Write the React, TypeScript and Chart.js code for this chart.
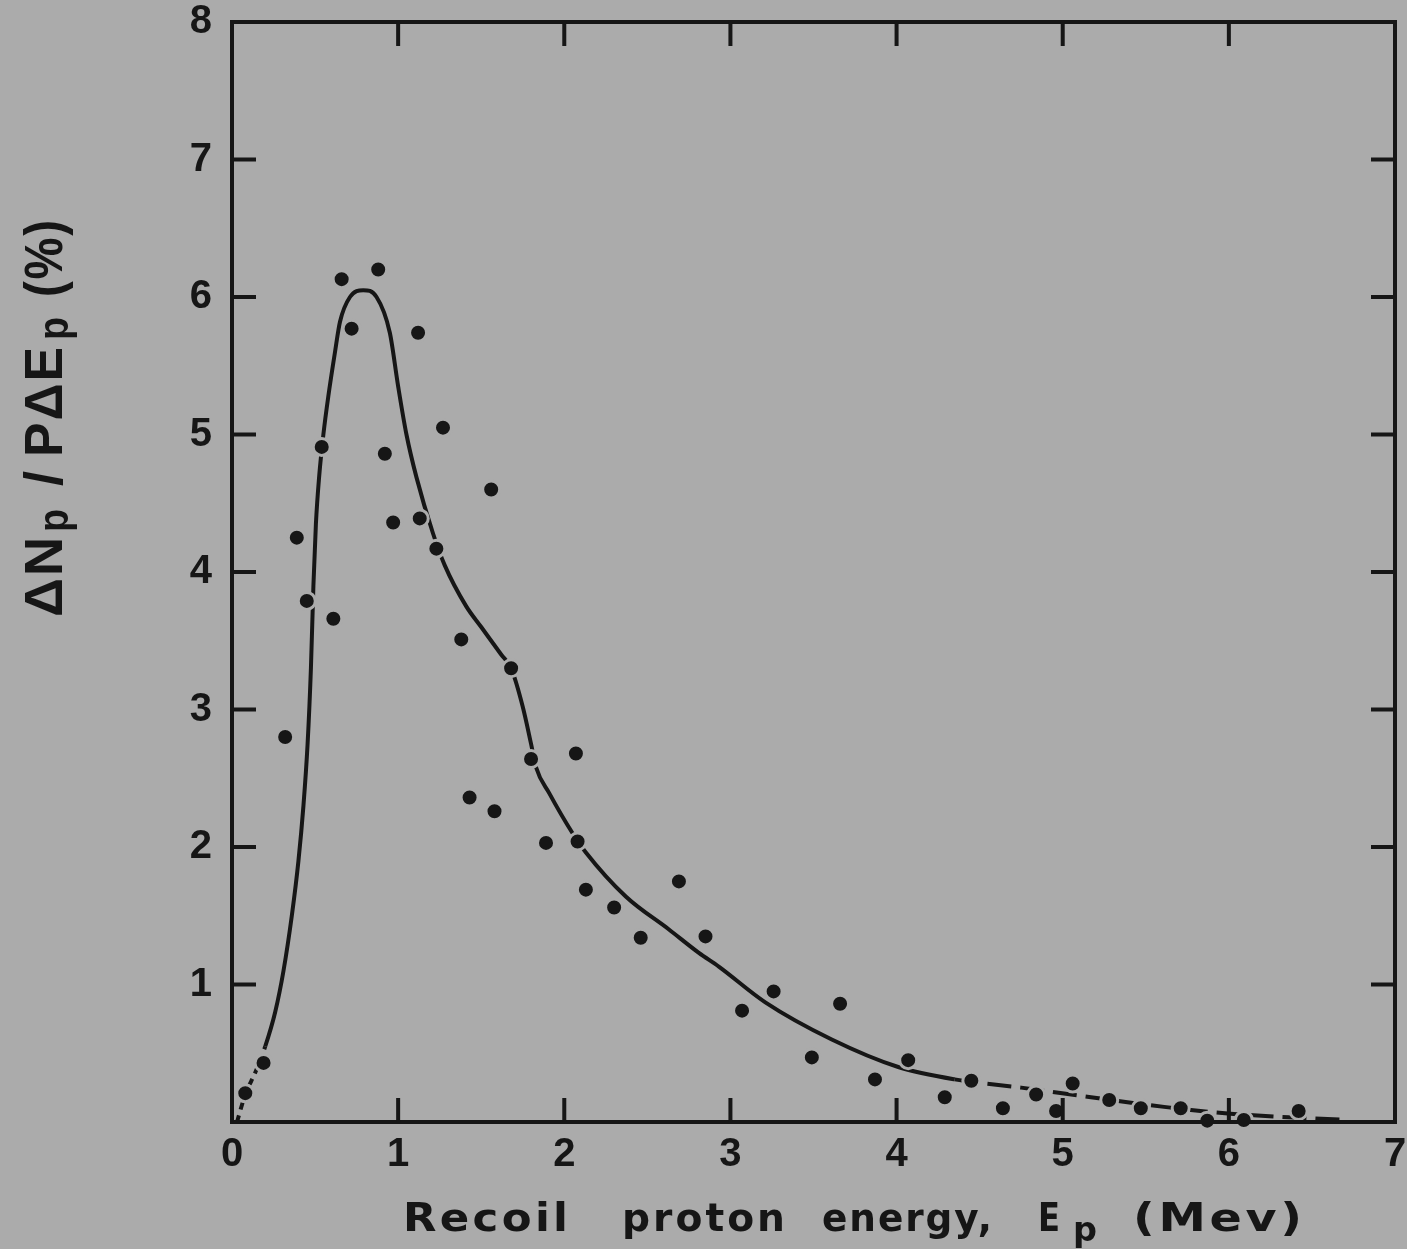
import React, { useEffect, useRef } from "react";
import { Chart, registerables } from "chart.js";

Chart.register(...registerables);

// Measured data points (recoil proton energy in MeV, yield in %)
const pointEnergy = [
  0.08, 0.19, 0.32, 0.39, 0.45, 0.54, 0.61, 0.66, 0.72, 0.88,
  0.92, 0.97, 1.12, 1.13, 1.23, 1.27, 1.38, 1.56, 1.43, 1.58,
  1.68, 1.8, 1.89, 2.07, 2.08, 2.13, 2.3, 2.46, 2.69, 2.85,
  3.07, 3.26, 3.49, 3.66, 3.87, 4.07, 4.29, 4.45, 4.64, 4.84,
  4.96, 5.06, 5.28, 5.47, 5.71, 5.87, 6.09, 6.42,
];
const pointYield = [
  0.21, 0.43, 2.8, 4.25, 3.79, 4.91, 3.66, 6.13, 5.77, 6.2,
  4.86, 4.36, 5.74, 4.39, 4.17, 5.05, 3.51, 4.6, 2.36, 2.26,
  3.3, 2.64, 2.03, 2.68, 2.04, 1.69, 1.56, 1.34, 1.75, 1.35,
  0.81, 0.95, 0.47, 0.86, 0.31, 0.45, 0.18, 0.3, 0.1, 0.2,
  0.08, 0.28, 0.16, 0.1, 0.1, 0.01, 0.015, 0.08,
];

// Hand-drawn smooth curve
const curveEnergy = [
  0.03, 0.08, 0.14, 0.2, 0.26, 0.31, 0.36, 0.4, 0.43, 0.455,
  0.475, 0.49, 0.505, 0.525, 0.55, 0.58, 0.62, 0.65, 0.71, 0.79,
  0.87, 0.95, 1.0, 1.05, 1.11, 1.21, 1.28, 1.41, 1.5, 1.62,
  1.68, 1.75, 1.8, 1.83, 1.91, 2.05, 2.13, 2.37, 2.63, 2.81,
  2.93, 3.21, 3.61, 4.01, 4.35, 4.75, 5.17, 5.61, 6.01, 6.71,
];
const curveYield = [
  0, 0.2, 0.36, 0.55, 0.8, 1.1, 1.5, 1.9, 2.3, 2.75,
  3.3, 3.9, 4.35, 4.7, 5.0, 5.28, 5.6, 5.82, 6.0, 6.05,
  6.0, 5.74, 5.35, 5.0, 4.69, 4.28, 4.05, 3.75, 3.6, 3.4,
  3.3, 3.02, 2.75, 2.58, 2.39, 2.1, 1.96, 1.64, 1.4, 1.23,
  1.13, 0.87, 0.6, 0.4, 0.31, 0.25, 0.18, 0.11, 0.06, 0.015,
];

const xTickValues = [0, 1, 2, 3, 4, 5, 6, 7];
const xTickLabels = ["0", "1", "2", "3", "4", "5", "6", "7"];
const yTickValues = [0, 1, 2, 3, 4, 5, 6, 7, 8];
const yTickLabels = ["", "1", "2", "3", "4", "5", "6", "7", "8"];

const BG = "#ababab";
const INK = "#161616";
const FONT = "'Liberation Sans', Arial, sans-serif";
const WIDE = "'DejaVu Sans', 'Liberation Sans', sans-serif";

function fitText(
  ctx: CanvasRenderingContext2D,
  text: string,
  x: number,
  y: number,
  width: number,
  spacing = 0
) {
  ctx.save();
  const anyCtx = ctx as any;
  const useSpacing = spacing && text.length > 1 && "letterSpacing" in anyCtx;
  if (useSpacing) anyCtx.letterSpacing = spacing + "px";
  let natural = ctx.measureText(text).width;
  if (useSpacing) natural -= spacing;
  ctx.translate(x, y);
  ctx.scale(width / natural, 1);
  ctx.fillText(text, 0, 0);
  ctx.restore();
}

export default function App() {
  const ref = useRef<HTMLCanvasElement>(null);

  useEffect(() => {
    document.body.style.margin = "0";
    document.body.style.background = BG;
    const canvas = ref.current;
    if (!canvas) return;

    const decor = {
      id: "decor",
      beforeDraw(chart: any) {
        const ctx = chart.ctx as CanvasRenderingContext2D;
        ctx.save();
        ctx.fillStyle = BG;
        ctx.fillRect(0, 0, chart.width, chart.height);
        ctx.restore();
      },
      afterDraw(chart: any) {
        const ctx = chart.ctx as CanvasRenderingContext2D;
        const { left, right, top, bottom } = chart.chartArea;
        const xs = chart.scales.x;
        const ys = chart.scales.y;
        ctx.save();
        ctx.strokeStyle = INK;
        ctx.lineWidth = 4;
        ctx.lineCap = "butt";
        ctx.strokeRect(left, top, right - left, bottom - top);
        const tl = 24;
        ctx.beginPath();
        for (const v of xTickValues) {
          if (v === 0 || v === 7) continue;
          const px = xs.getPixelForValue(v);
          ctx.moveTo(px, bottom);
          ctx.lineTo(px, bottom - tl);
          ctx.moveTo(px, top);
          ctx.lineTo(px, top + tl);
        }
        for (const v of yTickValues) {
          if (v === 0 || v === 8) continue;
          const py = ys.getPixelForValue(v);
          ctx.moveTo(left, py);
          ctx.lineTo(left + tl, py);
          ctx.moveTo(right, py);
          ctx.lineTo(right - tl, py);
        }
        ctx.stroke();

        // x-axis title
        ctx.fillStyle = INK;
        ctx.textAlign = "left";
        ctx.textBaseline = "alphabetic";
        ctx.font = `bold 39px ${WIDE}`;
        fitText(ctx, "Recoil", 403, 1231, 165, 3);
        fitText(ctx, "proton", 622, 1231, 163, 3);
        fitText(ctx, "energy,", 822, 1231, 170, 2);
        fitText(ctx, "E", 1038, 1231, 22);
        fitText(ctx, "(Mev)", 1133, 1231, 169, 3);
        ctx.font = `bold 33px ${WIDE}`;
        fitText(ctx, "p", 1073, 1241, 24);

        // y-axis title (rotated)
        ctx.save();
        ctx.translate(62, 0);
        ctx.rotate(-Math.PI / 2);
        ctx.font = `bold 54px ${FONT}`;
        fitText(ctx, "\u0394N", -617, 0, 80, 2);
        ctx.fillText("/", -486, 0);
        fitText(ctx, "P\u0394E", -457, 0, 110, 2);
        fitText(ctx, "(%)", -297, 0, 77, 2);
        ctx.font = `bold 42px ${FONT}`;
        fitText(ctx, "p", -532, 6, 23);
        fitText(ctx, "p", -340, 6, 23);
        ctx.restore();

        ctx.restore();
      },
    };

    const chart = new Chart(canvas, {
      type: "scatter",
      data: {
        datasets: [
          {
            type: "line",
            label: "curve",
            data: curveEnergy.map((x, i) => ({ x, y: curveYield[i] })),
            borderColor: INK,
            borderWidth: 4,
            pointRadius: 0,
            fill: false,
            cubicInterpolationMode: "monotone",
            order: 2,
            clip: false,
            segment: {
              borderDash: (c: any) =>
                c.p0.parsed.x < 0.19 ? [7, 6] : c.p0.parsed.x >= 4.34 ? [24, 9] : undefined,
            },
          } as any,
          {
            label: "data",
            data: pointEnergy.map((x, i) => ({ x, y: pointYield[i] })),
            backgroundColor: INK,
            borderColor: BG,
            borderWidth: 3,
            pointRadius: 8.5,
            order: 1,
            clip: false,
          } as any,
        ],
      },
      options: {
        animation: false,
        responsive: false,
        layout: { padding: { top: 22, right: 12, left: 0, bottom: 0 } },
        plugins: { legend: { display: false }, tooltip: { enabled: false } },
        scales: {
          x: {
            type: "linear",
            min: 0,
            max: 7,
            afterFit: (s: any) => {
              s.height = 127;
              s.paddingLeft = 0;
              s.paddingRight = 0;
            },
            afterBuildTicks: (s: any) => {
              s.ticks = xTickValues.map((v) => ({ value: v }));
            },
            grid: { display: false, drawTicks: false },
            border: { display: false },
            ticks: {
              autoSkip: false,
              maxRotation: 0,
              padding: 13,
              color: INK,
              font: { family: FONT, size: 40, weight: "bold", lineHeight: 1 },
              callback: (v: any) => xTickLabels[xTickValues.indexOf(Number(v))] ?? "",
            },
          },
          y: {
            type: "linear",
            min: 0,
            max: 8,
            afterFit: (s: any) => {
              s.width = 232;
              s.paddingTop = 0;
              s.paddingBottom = 0;
            },
            afterBuildTicks: (s: any) => {
              s.ticks = yTickValues.map((v) => ({ value: v }));
            },
            grid: { display: false, drawTicks: false },
            border: { display: false },
            ticks: {
              autoSkip: false,
              padding: 20,
              color: INK,
              font: { family: FONT, size: 40, weight: "bold", lineHeight: 1 },
              callback: (v: any) => yTickLabels[yTickValues.indexOf(Number(v))] ?? "",
            },
          },
        },
      } as any,
      plugins: [decor],
    });

    return () => chart.destroy();
  }, []);

  return <canvas ref={ref} width={1407} height={1249} style={{ display: "block" }} />;
}
